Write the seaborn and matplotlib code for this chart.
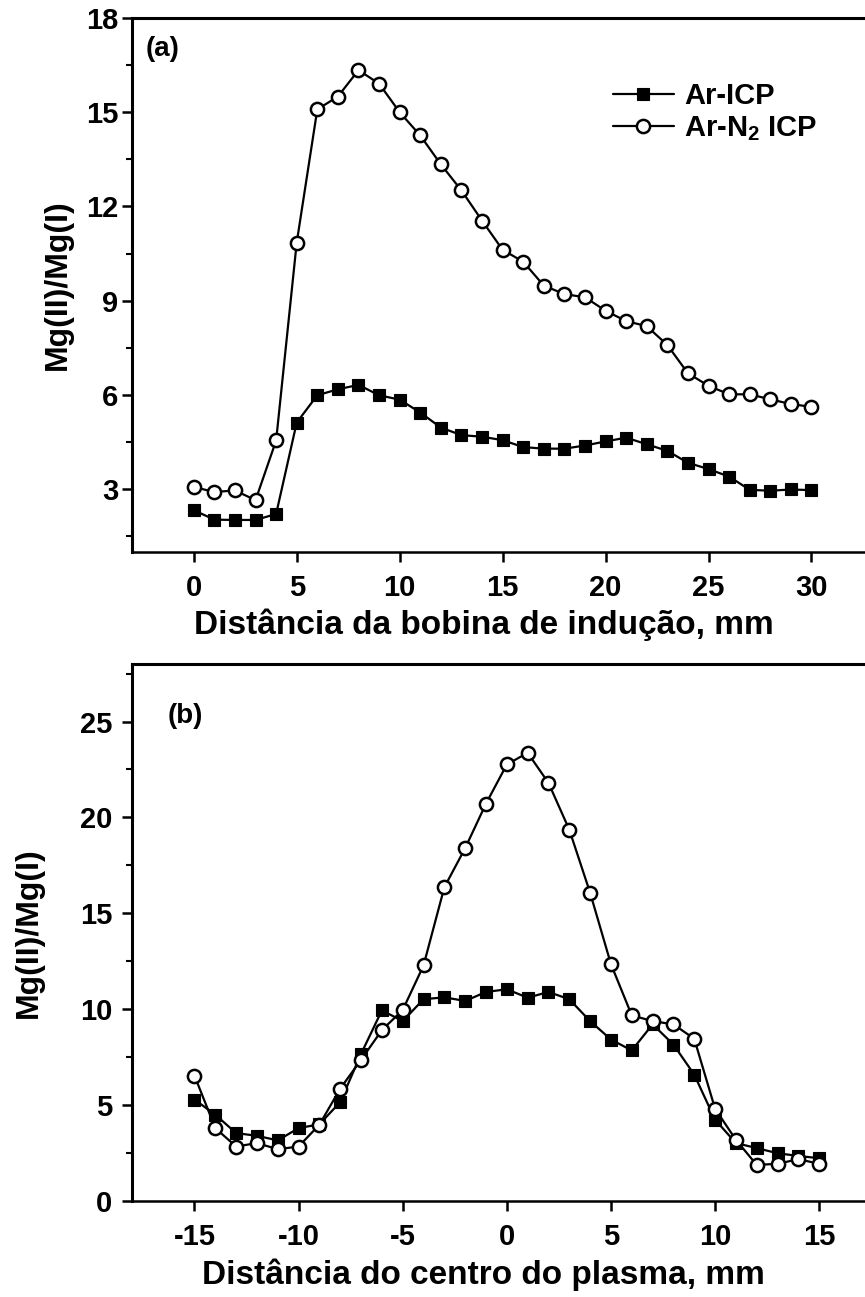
import matplotlib
matplotlib.use("Agg")
import matplotlib.pyplot as plt
import seaborn as sns
import numpy as np
import pandas as pd

# ---------------- data ----------------
# Panel (a): distance from induction coil (mm)
dist_a = list(range(0, 31))
ar_icp_a = [2.33, 2.03, 2.02, 2.02, 2.21, 5.12, 5.99, 6.18, 6.32, 5.99, 5.85,
            5.44, 4.96, 4.72, 4.67, 4.56, 4.34, 4.29, 4.29, 4.39, 4.52,
            4.64, 4.43, 4.22, 3.84, 3.64, 3.40, 2.98, 2.95, 2.99, 2.97]
ar_n2_a = [3.07, 2.91, 2.96, 2.65, 4.55, 10.85, 15.09, 15.50, 16.34, 15.91, 15.00,
           14.26, 13.34, 12.51, 11.55, 10.62, 10.24, 9.48, 9.21, 9.11, 8.68,
           8.35, 8.19, 7.59, 6.69, 6.29, 6.02, 6.02, 5.86, 5.71, 5.62]

# Panel (b): distance from plasma centre (mm)
dist_b = list(range(-15, 16))
ar_icp_b = [5.29, 4.50, 3.54, 3.40, 3.16, 3.80, 4.00, 5.16, 7.67, 9.94, 9.38,
            10.52, 10.62, 10.43, 10.90, 11.04, 10.60, 10.90, 10.52, 9.38, 8.42,
            7.85, 9.21, 8.16, 6.59, 4.24, 3.02, 2.76, 2.49, 2.35, 2.23]
ar_n2_b = [6.54, 3.80, 2.84, 3.02, 2.70, 2.84, 3.98, 5.86, 7.36, 8.91, 9.96,
           12.28, 16.36, 18.40, 20.72, 22.76, 23.37, 21.80, 19.36, 16.07, 12.35,
           9.68, 9.38, 9.21, 8.46, 4.81, 3.19, 1.88, 1.94, 2.18, 1.94]

series_names = ["Ar-ICP", r"Ar-N$_{\mathbf{2}}$ ICP"]

xticks_a = [0, 5, 10, 15, 20, 25, 30]
xticklabels_a = ["0", "5", "10", "15", "20", "25", "30"]
yticks_a = [3, 6, 9, 12, 15, 18]
yticklabels_a = ["3", "6", "9", "12", "15", "18"]
yminor_a = [1.5, 4.5, 7.5, 10.5, 13.5, 16.5]

xticks_b = [-15, -10, -5, 0, 5, 10, 15]
xticklabels_b = ["-15", "-10", "-5", "0", "5", "10", "15"]
yticks_b = [0, 5, 10, 15, 20, 25]
yticklabels_b = ["0", "5", "10", "15", "20", "25"]
yminor_b = [2.5, 7.5, 12.5, 17.5, 22.5, 27.5]

xlabel_a = "Distância da bobina de indução, mm"
xlabel_b = "Distância do centro do plasma, mm"
ylabel = "Mg(II)/Mg(I)"

# ---------------- style ----------------
sns.set_style("ticks")
plt.rcParams["font.family"] = ["Liberation Sans", "DejaVu Sans"]
plt.rcParams["font.weight"] = "bold"
plt.rcParams["axes.unicode_minus"] = False
plt.rcParams["mathtext.fontset"] = "custom"
plt.rcParams["mathtext.bf"] = "Liberation Sans:bold"
plt.rcParams["mathtext.rm"] = "Liberation Sans:bold"
for k in ["text.color", "axes.labelcolor", "xtick.color", "ytick.color", "axes.edgecolor"]:
    plt.rcParams[k] = "black"

W, H = 865, 1297
fig = plt.figure(figsize=(W / 100, H / 100), dpi=100)

def axes_px(left, top, right, bottom):
    return fig.add_axes([left / W, 1 - bottom / H, (right - left) / W, (bottom - top) / H])

ax_a = axes_px(132, 18, 865, 552)
ax_b = axes_px(132, 664, 865, 1201)

line_kw = dict(color="black", linewidth=1.6, estimator=None, sort=False)
sq_kw = dict(marker="s", markersize=8, markerfacecolor="black",
             markeredgecolor="black", markeredgewidth=0.8)
ci_kw = dict(marker="o", markersize=9.5, markerfacecolor="white",
             markeredgecolor="black", markeredgewidth=1.8)

def draw(ax, x, y1, y2):
    df = pd.DataFrame({"x": x, "a": y1, "b": y2})
    sns.lineplot(data=df, x="x", y="a", ax=ax, label=series_names[0], **line_kw, **sq_kw)
    sns.lineplot(data=df, x="x", y="b", ax=ax, label=series_names[1], **line_kw, **ci_kw)

draw(ax_a, dist_a, ar_icp_a, ar_n2_a)
draw(ax_b, dist_b, ar_icp_b, ar_n2_b)

def style(ax, xlim, ylim, xt, xtl, yt, ytl, ymin, xlabel, ypad, xl_coords, yl_x):
    ax.set_xlim(*xlim)
    ax.set_ylim(*ylim)
    ax.set_xticks(xt)
    ax.set_xticklabels(xtl)
    ax.set_yticks(yt)
    ax.set_yticklabels(ytl)
    ax.set_yticks(ymin, minor=True)
    ax.spines["right"].set_visible(False)
    ax.spines["top"].set_linewidth(2.2)
    ax.spines["left"].set_linewidth(2.2)
    ax.spines["bottom"].set_linewidth(1.8)
    ax.tick_params(axis="x", which="major", direction="out", length=7, width=1.8,
                   labelsize=21, pad=9)
    ax.tick_params(axis="y", which="major", direction="out", length=7, width=1.8,
                   labelsize=21, pad=ypad)
    ax.tick_params(axis="y", which="minor", direction="out", length=4, width=1.5)
    for lab in ax.get_xticklabels() + ax.get_yticklabels():
        lab.set_fontweight("bold")
    ax.set_xlabel(xlabel, fontsize=24, fontweight="bold")
    ax.set_ylabel(ylabel, fontsize=23, fontweight="bold")
    ax.xaxis.set_label_coords(*xl_coords)
    ax.yaxis.set_label_coords(yl_x, 0.5)

style(ax_a, (-3, 32.6), (1, 18), xticks_a, xticklabels_a, yticks_a, yticklabels_a,
      yminor_a, xlabel_a, 3, (0.48, -0.106), -0.080)
style(ax_b, (-18, 17.2), (0, 28), xticks_b, xticklabels_b, yticks_b, yticklabels_b,
      yminor_b, xlabel_b, 7, (0.479, -0.108), -0.120)

ax_a.text(0.019, 0.966, "(a)", transform=ax_a.transAxes, fontsize=20,
          fontweight="bold", va="top", ha="left")
ax_b.text(0.049, 0.927, "(b)", transform=ax_b.transAxes, fontsize=20,
          fontweight="bold", va="top", ha="left")

ax_b.get_legend().remove()
leg = ax_a.legend(loc="upper left", bbox_to_anchor=(0.656, 0.880), frameon=False,
                  fontsize=21, handlelength=2.1, handletextpad=0.35,
                  labelspacing=0.15, borderpad=0, borderaxespad=0)
for t in leg.get_texts():
    t.set_fontweight("bold")

fig.savefig("out.png", dpi=100)
